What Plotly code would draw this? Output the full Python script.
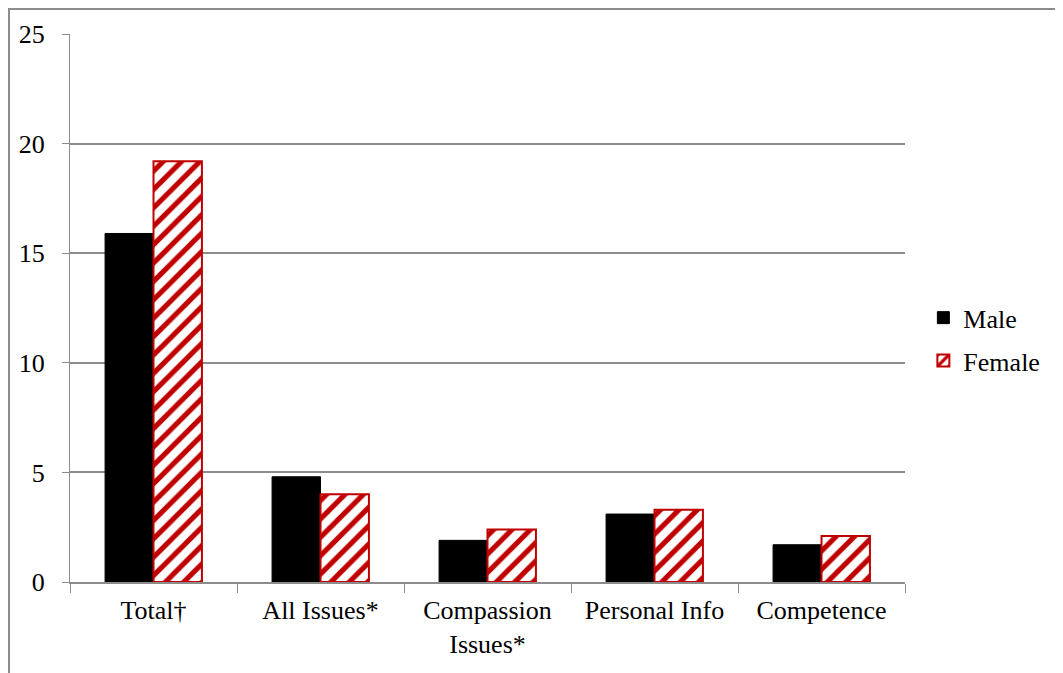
import plotly.graph_objects as go

categories = ["Total†", "All Issues*", "Compassion<br>Issues*", "Personal Info", "Competence"]
male = [15.9, 4.8, 1.9, 3.1, 1.7]
female = [19.2, 4.0, 2.4, 3.3, 2.1]
y_ticks = [0, 5, 10, 15, 20, 25]

FONT = "Liberation Serif, Times New Roman, serif"
GRID = "#8c8c8c"
RED = "#c00000"

fig = go.Figure()
fig.add_trace(go.Bar(
    x=categories, y=male, name="Male", legendgroup="m",
    marker=dict(color="black", line=dict(color="black", width=1)),
))
fig.add_trace(go.Bar(
    x=categories, y=female, name="Female", legendgroup="f",
    marker=dict(
        color="white",
        line=dict(color=RED, width=2),
        pattern=dict(shape="/", fgcolor=RED, bgcolor="white", fgopacity=1,
                     size=13, solidity=0.4),
    ),
))

# page has an 8px body margin, so margins are shifted by 8px
fig.update_layout(
    width=1063, height=673,
    margin=dict(l=62, r=166, t=26, b=99, autoexpand=False),
    paper_bgcolor="white", plot_bgcolor="white",
    barmode="group", bargap=0.42, bargroupgap=0,
    font=dict(family=FONT, size=26, color="black"),
    showlegend=True,
    legend=dict(x=1.022, y=0.443, xanchor="left", yanchor="middle",
                traceorder="grouped",
                font=dict(family=FONT, size=26), tracegroupgap=6, itemwidth=30,
                bgcolor="rgba(0,0,0,0)"),
    xaxis=dict(
        showgrid=False, showline=True, linecolor=GRID, linewidth=2,
        ticks="outside", ticklen=9, tickwidth=1, tickcolor=GRID,
        tickson="boundaries", tickfont=dict(family=FONT, size=26),
        ticklabelstandoff=4, automargin=False,
    ),
    yaxis=dict(
        range=[0, 25], tickvals=y_ticks, showgrid=True, gridcolor=GRID, gridwidth=2,
        showline=True, linecolor=GRID, linewidth=1,
        ticks="outside", ticklen=7, tickcolor=GRID, zeroline=False,
        tickfont=dict(family=FONT, size=26), ticklabelstandoff=12,
        automargin=False,
    ),
    shapes=[
        dict(type="line", xref="paper", yref="paper", x0=-62/835, x1=1.3, y0=1 + 25/548, y1=1 + 25/548,
             line=dict(color=GRID, width=2)),
        dict(type="line", xref="paper", yref="paper", x0=-61/835, x1=-61/835, y0=-0.3, y1=1 + 26/548,
             line=dict(color=GRID, width=2)),
    ],
)

fig.write_html("out.html")
